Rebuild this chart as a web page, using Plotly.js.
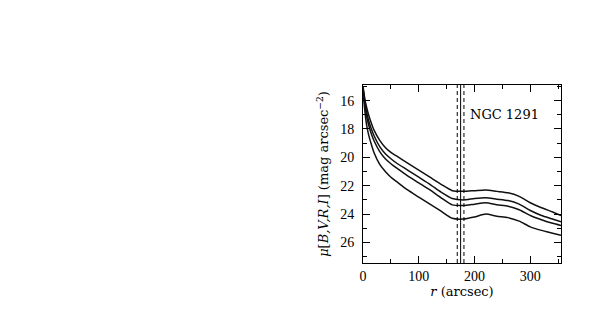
<!DOCTYPE html>
<html>
<head>
<meta charset="utf-8">
<script src="https://cdn.plot.ly/plotly-3.0.1.min.js"></script>
<style>
    body { margin: 0; background: #fff; }
    #chart { width: 598px; height: 318px; }
</style>
</head>
<body>
<div id="chart"></div>
<script>
// ---------- Data: surface brightness profiles ---------- //
const radius = [0, 3, 6, 10, 15, 20, 30, 40, 50, 60, 80, 100, 120, 140, 160, 180, 200, 220, 240, 260, 280, 300, 320, 340, 355];

const muI = [15.0, 15.8, 16.4, 17.0, 17.6, 18.1, 18.8, 19.3, 19.65, 19.9, 20.4, 20.9, 21.4, 21.9, 22.35, 22.4, 22.35, 22.3, 22.4, 22.5, 22.75, 23.2, 23.55, 23.85, 24.1];
const muR = [15.1, 16.0, 16.7, 17.4, 18.0, 18.5, 19.25, 19.75, 20.1, 20.4, 20.9, 21.4, 21.9, 22.45, 22.9, 23.0, 22.9, 22.85, 22.95, 23.05, 23.3, 23.75, 24.1, 24.35, 24.55];
const muV = [15.2, 16.2, 17.0, 17.7, 18.35, 18.85, 19.6, 20.1, 20.45, 20.75, 21.3, 21.8, 22.3, 22.85, 23.35, 23.4, 23.3, 23.2, 23.35, 23.45, 23.7, 24.1, 24.4, 24.65, 24.8];
const muB = [15.3, 16.6, 17.6, 18.4, 19.1, 19.7, 20.5, 21.0, 21.4, 21.7, 22.3, 22.8, 23.3, 23.8, 24.3, 24.35, 24.2, 24.0, 24.15, 24.25, 24.5, 24.9, 25.15, 25.35, 25.5];

// bar radius (solid) and its uncertainty (dashed)
const barRadius = 175;
const barLimits = [169, 181];

const label = { text: 'NGC 1291', x: 188, y: 17.0 };

// ---------- Traces ---------- //
const lineStyle = { color: '#111', width: 1.5, shape: 'spline', smoothing: 0.6 };
const traces = [muI, muR, muV, muB].map(mu => ({
    x: radius,
    y: mu,
    type: 'scatter',
    mode: 'lines',
    line: lineStyle,
    hoverinfo: 'skip',
}));

const shapes = [
    { type: 'line', xref: 'x', yref: 'paper', x0: barRadius, x1: barRadius, y0: 0, y1: 1,
      line: { color: '#000', width: 1 } },
    ...barLimits.map(r => ({
        type: 'line', xref: 'x', yref: 'paper', x0: r, x1: r, y0: 0, y1: 1,
        line: { color: '#000', width: 1, dash: '4px,3px' }
    }))
];

const tickFont = { family: 'Liberation Serif, serif', size: 14, color: '#000' };
const textFont = { family: 'DejaVu Serif, serif', size: 13, color: '#000' };

const plotlyLayout = {
    width: 598,
    height: 318,
    margin: { l: 363, r: 37, t: 85, b: 55 },
    paper_bgcolor: '#fff',
    plot_bgcolor: '#fff',
    showlegend: false,
    font: textFont,
    xaxis: {
        range: [0, 355],
        tickvals: [0, 100, 200, 300],
        ticks: 'inside',
        ticklen: 7,
        tickcolor: '#000',
        minor: { dtick: 50, ticks: 'inside', ticklen: 4, tickcolor: '#000' },
        showline: true,
        linecolor: '#000',
        linewidth: 1,
        mirror: 'allticks',
        showgrid: false,
        zeroline: false,
        tickfont: tickFont,
        title: { text: '<i>r</i> (arcsec)', font: textFont, standoff: 0 },
    },
    yaxis: {
        range: [27.45, 14.9],
        tickvals: [16, 18, 20, 22, 24, 26],
        ticks: 'inside',
        ticklen: 7,
        tickcolor: '#000',
        minor: { dtick: 1, ticks: 'inside', ticklen: 4, tickcolor: '#000' },
        showline: true,
        linecolor: '#000',
        linewidth: 1,
        mirror: 'allticks',
        showgrid: false,
        zeroline: false,
        tickfont: tickFont,
        ticklabelstandoff: 5,
        title: { text: '<i>μ</i>[<i>B,V,R,I</i>] (mag arcsec<sup>−2</sup>)', font: textFont, standoff: 8 },
    },
    shapes: shapes,
    annotations: [{
        x: label.x, y: label.y, xref: 'x', yref: 'y',
        text: label.text, showarrow: false,
        xanchor: 'left', yanchor: 'middle',
        font: textFont,
    }],
};

Plotly.newPlot('chart', traces, plotlyLayout, { displayModeBar: false, staticPlot: true });
</script>
</body>
</html>
